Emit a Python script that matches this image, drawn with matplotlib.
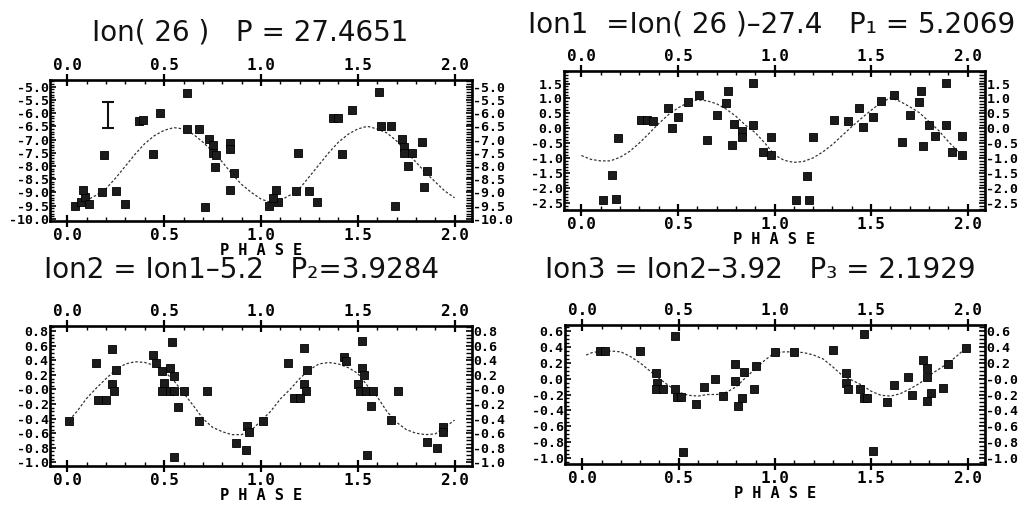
import matplotlib
matplotlib.use('Agg')
import matplotlib.pyplot as plt
import numpy as np
from matplotlib.ticker import MultipleLocator

# ---- panel 1: Ion(26) ----
p1_phase = [0.04, 0.07, 0.09, 0.08, 0.11, 0.18, 0.19, 0.25, 0.30, 0.37, 0.39, 0.48, 0.44,
            0.62, 0.62, 0.68, 0.71, 0.73, 0.75, 0.75, 0.77, 0.76, 0.84, 0.84, 0.86, 0.84,
            1.04, 1.08, 1.09, 1.06, 1.18, 1.19, 1.25, 1.29, 1.37, 1.40, 1.42, 1.47,
            1.61, 1.62, 1.67, 1.69, 1.73, 1.74, 1.74, 1.78, 1.83, 1.76, 1.86, 1.84]
p1_val = [-9.5, -9.37, -9.19, -8.9, -9.45, -9.0, -7.6, -8.96, -9.44, -6.3, -6.25, -5.99, -7.56,
          -5.25, -6.6, -6.6, -9.55, -6.97, -7.2, -7.5, -7.6, -8.03, -7.15, -7.35, -8.26, -8.9,
          -9.5, -8.9, -9.37, -9.2, -8.95, -7.5, -8.95, -9.37, -6.2, -6.2, -7.56, -5.9,
          -5.19, -6.5, -6.5, -9.5, -6.97, -7.27, -7.5, -7.5, -7.1, -7.99, -8.2, -8.8]
p1_fit_phase = [0.05, 0.1, 0.15, 0.2, 0.25, 0.3, 0.35, 0.4, 0.45, 0.5, 0.55, 0.6, 0.65, 0.7,
                0.75, 0.8, 0.85, 0.9, 0.95, 1.0, 1.05, 1.1, 1.15, 1.2, 1.25, 1.3, 1.35, 1.4,
                1.45, 1.5, 1.55, 1.6, 1.65, 1.7, 1.75, 1.8, 1.85, 1.9, 1.95, 2.0]
p1_fit_val = [-9.4, -9.3, -9.1, -8.85, -8.45, -8.0, -7.55, -7.15, -6.85, -6.65, -6.55, -6.6,
              -6.8, -7.1, -7.45, -7.85, -8.3, -8.7, -9.0, -9.25, -9.38, -9.3, -9.1, -8.85,
              -8.4, -7.95, -7.5, -7.1, -6.8, -6.6, -6.5, -6.6, -6.75, -7.05, -7.45, -7.85,
              -8.25, -8.6, -8.95, -9.2]
p1_ticks = [-5.0, -5.5, -6.0, -6.5, -7.0, -7.5, -8.0, -8.5, -9.0, -9.5, -10.0]
p1_left_labels = ['-5.0', '-5.5', '-6.0', '-6.5', '-7.0', '-7.5', '-8.0', '-8.5', '-9.0', '-9.5', '-10.0']
p1_right_labels = p1_left_labels
p1_err_phase = 0.21
p1_err_lo, p1_err_hi = -6.57, -5.59

# ---- panel 2: Ion1 ----
p2_phase = [0.11, 0.18, 0.16, 0.19, 0.31, 0.34, 0.37, 0.45, 0.47, 0.50, 0.55, 0.61, 0.65,
            0.70, 0.76, 0.75, 0.78, 0.79, 0.83, 0.83, 0.89, 0.89, 0.94, 0.98, 0.98,
            1.11, 1.18, 1.17, 1.20, 1.31, 1.38, 1.44, 1.46, 1.51, 1.55, 1.62, 1.66,
            1.70, 1.76, 1.75, 1.77, 1.80, 1.83, 1.89, 1.89, 1.92, 1.97, 1.97]
p2_val = [-2.41, -2.37, -1.57, -0.32, 0.27, 0.27, 0.25, 0.69, 0.02, 0.37, 0.87, 1.13, -0.39,
          0.45, 1.26, 0.86, -0.58, 0.14, -0.08, -0.31, 0.12, 1.53, -0.79, -0.9, -0.3,
          -2.43, -2.43, -1.6, -0.31, 0.29, 0.25, 0.68, 0.04, 0.36, 0.9, 1.1, -0.45,
          0.45, 1.26, 0.87, -0.6, 0.09, -0.27, 0.12, 1.53, -0.79, -0.91, -0.26]
p2_fit_phase = [0.0, 0.05, 0.1, 0.15, 0.2, 0.25, 0.3, 0.35, 0.4, 0.45, 0.5, 0.55, 0.6, 0.65,
                0.7, 0.75, 0.8, 0.85, 0.9, 0.95, 1.0, 1.05, 1.1, 1.15, 1.2, 1.25, 1.3, 1.35,
                1.4, 1.45, 1.5, 1.55, 1.6, 1.65, 1.7, 1.75, 1.8, 1.85, 1.9, 1.95, 1.98]
p2_fit_val = [-0.92, -1.05, -1.1, -1.1, -0.98, -0.78, -0.5, -0.18, 0.15, 0.45, 0.68, 0.85,
              0.95, 0.92, 0.82, 0.64, 0.4, 0.1, -0.15, -0.5, -0.9, -1.08, -1.15, -1.12, -1.0,
              -0.8, -0.55, -0.25, 0.05, 0.33, 0.6, 0.85, 1.02, 0.9, 0.72, 0.52, 0.22, -0.08,
              -0.45, -0.78, -0.92]
p2_ticks = [1.5, 1.0, 0.5, 0.0, -0.5, -1.0, -1.5, -2.0, -2.5]
p2_left_labels = ['1.5', '1.0', '0.5', '0.0', '-0.5', '-1.0', '-1.5', '-2.0', '-2.5']
p2_right_labels = p2_left_labels

# ---- panel 3: Ion2 ----
p3_phase = [0.01, 0.15, 0.23, 0.25, 0.23, 0.24, 0.16, 0.20, 0.44, 0.46, 0.49, 0.54, 0.53,
            0.55, 0.50, 0.49, 0.53, 0.55, 0.60, 0.57, 0.55, 0.68, 0.72, 0.87, 0.92, 0.93, 0.94,
            1.01, 1.14, 1.22, 1.24, 1.22, 1.23, 1.17, 1.20, 1.43, 1.44, 1.52, 1.52, 1.53,
            1.50, 1.51, 1.54, 1.58, 1.57, 1.55, 1.67, 1.71, 1.86, 1.91, 1.94, 1.94]
p3_val = [-0.43, 0.36, 0.55, 0.26, 0.07, -0.02, -0.14, -0.14, 0.47, 0.36, 0.25, 0.65, 0.29,
          0.18, 0.09, -0.02, -0.02, -0.02, -0.02, -0.24, -0.92, -0.43, -0.02, -0.74, -0.83,
          -0.5, -0.59,
          -0.43, 0.36, 0.57, 0.26, 0.07, -0.02, -0.12, -0.12, 0.45, 0.39, 0.66, 0.29, 0.2,
          0.07, -0.02, -0.02, -0.02, -0.23, -0.9, -0.42, -0.02, -0.72, -0.8, -0.52, -0.58]
p3_fit_phase = [0.01, 0.05, 0.1, 0.15, 0.2, 0.25, 0.3, 0.35, 0.4, 0.45, 0.5, 0.55, 0.6, 0.65,
                0.7, 0.75, 0.8, 0.85, 0.9, 0.95, 1.0, 1.05, 1.1, 1.15, 1.2, 1.25, 1.3, 1.35,
                1.4, 1.45, 1.5, 1.55, 1.6, 1.65, 1.7, 1.75, 1.8, 1.85, 1.9, 1.95, 2.0]
p3_fit_val = [-0.42, -0.3, -0.12, 0.02, 0.15, 0.27, 0.35, 0.38, 0.37, 0.33, 0.25, 0.12,
              -0.05, -0.22, -0.4, -0.52, -0.58, -0.62, -0.62, -0.56, -0.43, -0.3, -0.13, 0.0,
              0.15, 0.27, 0.35, 0.37, 0.35, 0.3, 0.22, 0.05, -0.1, -0.3, -0.45, -0.55, -0.6,
              -0.62, -0.61, -0.52, -0.42]
p3_ticks = [0.8, 0.6, 0.4, 0.2, 0.0, -0.2, -0.4, -0.6, -0.8, -1.0]
p3_left_labels = ['0.8', '0.6', '0.4', '0.2', '-0.0', '-0.2', '-0.4', '-0.6', '-0.8', '-1.0']
p3_right_labels = p3_left_labels

# ---- panel 4: Ion3 ----
p4_phase = [0.09, 0.12, 0.30, 0.38, 0.39, 0.38, 0.42, 0.48, 0.48, 0.49, 0.51, 0.52, 0.59,
            0.63, 0.69, 0.73, 0.79, 0.79, 0.84, 0.81, 0.83, 0.89, 0.90, 1.0,
            1.10, 1.30, 1.46, 1.37, 1.37, 1.38, 1.44, 1.46, 1.48, 1.51, 1.58, 1.62, 1.69,
            1.71, 1.77, 1.79, 1.79, 1.81, 1.79, 1.90, 1.87, 1.99]
p4_val = [0.35, 0.35, 0.35, 0.07, -0.05, -0.13, -0.13, 0.54, -0.13, -0.23, -0.23, -0.93, -0.32,
          -0.11, 0.0, -0.22, 0.18, -0.03, 0.08, -0.35, -0.25, -0.13, 0.16, 0.34,
          0.34, 0.36, 0.56, 0.07, -0.05, -0.13, -0.13, -0.24, -0.24, -0.91, -0.3, -0.08, 0.02,
          -0.2, 0.24, 0.13, 0.02, -0.18, -0.28, 0.18, -0.12, 0.39]
p4_fit_phase = [0.02, 0.05, 0.1, 0.15, 0.2, 0.25, 0.3, 0.35, 0.4, 0.45, 0.5, 0.55, 0.6, 0.65,
                0.7, 0.75, 0.8, 0.85, 0.9, 0.95, 1.0, 1.05, 1.1, 1.15, 1.2, 1.25, 1.3, 1.35,
                1.4, 1.45, 1.5, 1.55, 1.6, 1.65, 1.7, 1.75, 1.8, 1.85, 1.9, 1.95, 1.99]
p4_fit_val = [0.3, 0.33, 0.35, 0.35, 0.34, 0.28, 0.2, 0.1, 0.0, -0.09, -0.17, -0.21, -0.22,
              -0.2, -0.2, -0.17, -0.1, 0.02, 0.13, 0.24, 0.33, 0.34, 0.34, 0.33, 0.3, 0.25,
              0.15, 0.04, -0.02, -0.08, -0.16, -0.21, -0.22, -0.19, -0.13, -0.06, 0.04, 0.12,
              0.2, 0.3, 0.39]
p4_ticks = [0.6, 0.4, 0.2, 0.0, -0.2, -0.4, -0.6, -0.8, -1.0]
p4_left_labels = ['0.6', '0.4', '0.2', '0.0', '-0.2', '-0.4', '-0.6', '-0.8', '-1.0']
p4_right_labels = ['0.6', '0.4', '0.2', '-0.0', '-0.2', '-0.4', '-0.6', '-0.8', '-1.0']

x_ticks = [0.0, 0.5, 1.0, 1.5, 2.0]
x_labels = ['0.0', '0.5', '1.0', '1.5', '2.0']

titles = ['Ion( 26 )   P = 27.4651',
          'Ion1  =Ion( 26 )–27.4   P₁ = 5.2069',
          'Ion2 = Ion1–5.2   P₂=3.9284',
          'Ion3 = Ion2–3.92   P₃ = 2.1929']

W, H = 1035, 507
fig = plt.figure(figsize=(W / 100, H / 100), dpi=100)
MONO = 'DejaVu Sans Mono'


def px_axes(x0, y0, x1, y1):
    return fig.add_axes([x0 / W, 1 - y1 / H, (x1 - x0) / W, (y1 - y0) / H])


def panel(ax, ph, val, fph, fval, ticks, llab, rlab, ylim, yminor):
    ax.plot(fph, fval, color='#333333', lw=0.9, ls=(0, (2.0, 1.6)))
    ax.plot(ph, val, 's', ms=5.7, color='#1c1c1c', mec='#000000', mew=0.6)
    ax.set_xlim(-0.09, 2.09)
    ax.set_ylim(*ylim)
    ax.set_xticks(x_ticks)
    ax.set_xticklabels(x_labels, fontsize=11.5, fontweight='bold', family=MONO)
    ax.xaxis.set_minor_locator(MultipleLocator(0.1))
    ax.set_yticks(ticks)
    ax.set_yticklabels(llab, fontsize=9.5, fontweight='bold', family=MONO)
    ax.yaxis.set_minor_locator(MultipleLocator(yminor))
    ax.tick_params(axis='x', which='major', direction='inout', length=8, width=1.6,
                   top=True, labeltop=True, pad=1)
    ax.tick_params(axis='x', which='minor', direction='in', length=3, width=1.0, top=True)
    ax.tick_params(axis='y', which='major', direction='in', length=4, width=1.2,
                   right=True, pad=1)
    ax.tick_params(axis='y', which='minor', direction='in', length=3, width=1.0, right=True)
    for s in ax.spines.values():
        s.set_linewidth(1.9)
    # right-hand duplicated scale with its own labels
    ax2 = ax.twinx()
    ax2.set_ylim(*ylim)
    ax2.set_yticks(ticks)
    ax2.set_yticklabels(rlab, fontsize=9.5, fontweight='bold', family=MONO)
    ax2.tick_params(axis='y', direction='in', length=4, width=1.2, pad=1)
    ax2.yaxis.set_minor_locator(MultipleLocator(yminor))
    ax2.tick_params(axis='y', which='minor', direction='in', length=4, width=1.0)
    for s in ax2.spines.values():
        s.set_visible(False)
    ax.set_xlabel('P H A S E', fontsize=11, fontweight='bold', family=MONO, labelpad=0)


ax1 = px_axes(50, 80, 472, 221)
panel(ax1, p1_phase, p1_val, p1_fit_phase, p1_fit_val, p1_ticks,
      p1_left_labels, p1_right_labels, (-10.08, -4.75), 0.1)
ax1.errorbar([p1_err_phase], [(p1_err_lo + p1_err_hi) / 2], yerr=[(p1_err_hi - p1_err_lo) / 2],
             fmt='none', ecolor='#111111', elinewidth=1.5, capsize=4, capthick=1.5)

ax2 = px_axes(564, 71, 985, 210)
panel(ax2, p2_phase, p2_val, p2_fit_phase, p2_fit_val, p2_ticks,
      p2_left_labels, p2_right_labels, (-2.75, 1.92), 0.1)

ax3 = px_axes(50, 326, 472, 466)
panel(ax3, p3_phase, p3_val, p3_fit_phase, p3_fit_val, p3_ticks,
      p3_left_labels, p3_right_labels, (-1.05, 0.87), 0.05)

ax4 = px_axes(565, 325, 985, 464)
panel(ax4, p4_phase, p4_val, p4_fit_phase, p4_fit_val, p4_ticks,
      p4_left_labels, p4_right_labels, (-1.08, 0.68), 0.05)

title_pos = [(250, 33), (772, 25), (242, 270), (760, 270)]
for t, (tx, ty) in zip(titles, title_pos):
    fig.text(tx / W, 1 - ty / H, t, ha='center', va='center', fontsize=20,
             family='DejaVu Sans', color='#111111')

fig.savefig('out.png', dpi=100, facecolor='white')
